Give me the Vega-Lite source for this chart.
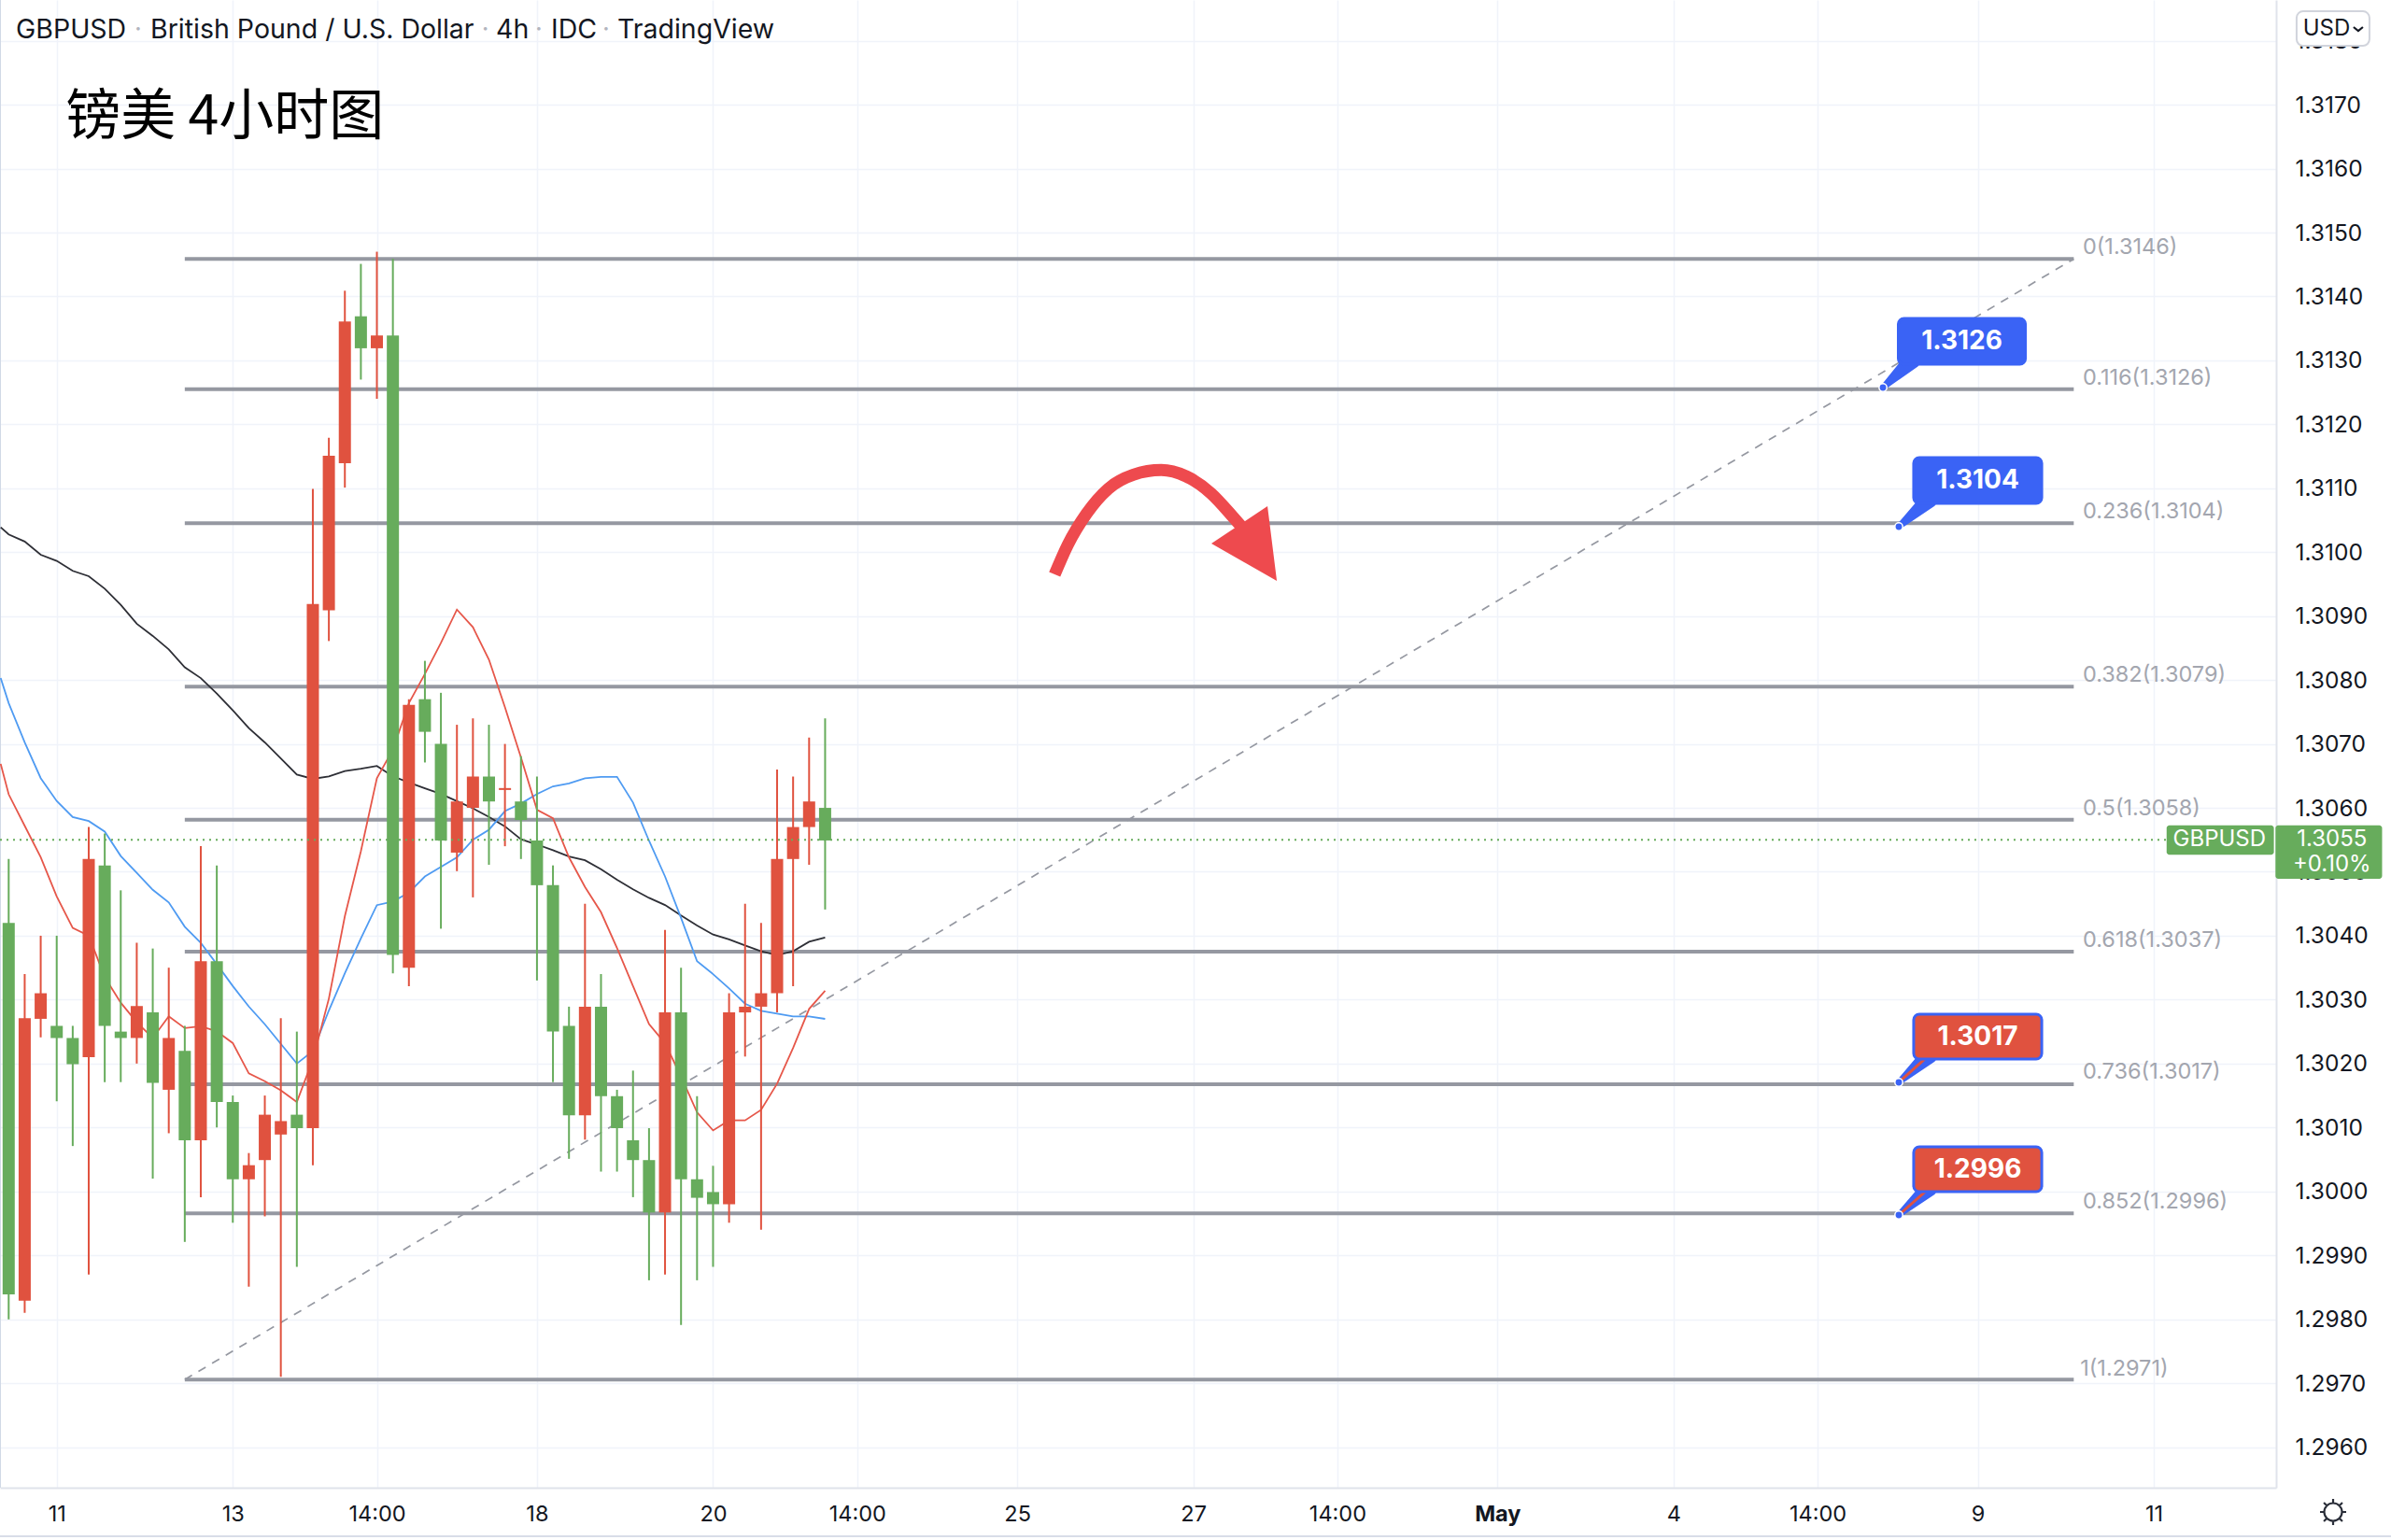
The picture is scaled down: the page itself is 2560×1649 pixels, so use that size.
{
"$schema":"https://vega.github.io/schema/vega-lite/v6.json",
"width":2437,"height":1593,
"autosize":"none",
"padding":{"left":0,"top":0,"right":123,"bottom":56},
"background":"#ffffff",
"config":{"view":{"stroke":null},"text":{"font":"Inter"}},
"datasets":{
"candles":[
{"t":0,"open":1.30420,"high":1.30520,"low":1.29800,"close":1.29839},
{"t":1,"open":1.29829,"high":1.30340,"low":1.29810,"close":1.30271},
{"t":2,"open":1.30270,"high":1.30400,"low":1.30241,"close":1.30310},
{"t":3,"open":1.30259,"high":1.30400,"low":1.30141,"close":1.30240},
{"t":4,"open":1.30240,"high":1.30259,"low":1.30071,"close":1.30199},
{"t":5,"open":1.30210,"high":1.30570,"low":1.29870,"close":1.30520},
{"t":6,"open":1.30510,"high":1.30560,"low":1.30171,"close":1.30259},
{"t":7,"open":1.30250,"high":1.30471,"low":1.30171,"close":1.30240},
{"t":8,"open":1.30240,"high":1.30389,"low":1.30200,"close":1.30290},
{"t":9,"open":1.30280,"high":1.30380,"low":1.30020,"close":1.30170},
{"t":10,"open":1.30159,"high":1.30350,"low":1.30091,"close":1.30240},
{"t":11,"open":1.30220,"high":1.30259,"low":1.29921,"close":1.30080},
{"t":12,"open":1.30080,"high":1.30540,"low":1.29991,"close":1.30360},
{"t":13,"open":1.30360,"high":1.30510,"low":1.30100,"close":1.30140},
{"t":14,"open":1.30140,"high":1.30150,"low":1.29951,"close":1.30019},
{"t":15,"open":1.30019,"high":1.30060,"low":1.29851,"close":1.30041},
{"t":16,"open":1.30049,"high":1.30150,"low":1.29961,"close":1.30120},
{"t":17,"open":1.30089,"high":1.30271,"low":1.29710,"close":1.30110},
{"t":18,"open":1.30120,"high":1.30250,"low":1.29882,"close":1.30099},
{"t":19,"open":1.30099,"high":1.31099,"low":1.30041,"close":1.30919},
{"t":20,"open":1.30909,"high":1.31179,"low":1.30861,"close":1.31151},
{"t":21,"open":1.31139,"high":1.31409,"low":1.31101,"close":1.31361},
{"t":22,"open":1.31369,"high":1.31451,"low":1.31270,"close":1.31319},
{"t":23,"open":1.31319,"high":1.31470,"low":1.31240,"close":1.31339},
{"t":24,"open":1.31339,"high":1.31459,"low":1.30341,"close":1.30370},
{"t":25,"open":1.30350,"high":1.30770,"low":1.30321,"close":1.30761},
{"t":26,"open":1.30770,"high":1.30830,"low":1.30671,"close":1.30719},
{"t":27,"open":1.30700,"high":1.30780,"low":1.30411,"close":1.30549},
{"t":28,"open":1.30530,"high":1.30730,"low":1.30501,"close":1.30610},
{"t":29,"open":1.30600,"high":1.30740,"low":1.30460,"close":1.30649},
{"t":30,"open":1.30649,"high":1.30730,"low":1.30511,"close":1.30610},
{"t":31,"open":1.30628,"high":1.30700,"low":1.30540,"close":1.30631},
{"t":32,"open":1.30610,"high":1.30681,"low":1.30520,"close":1.30581},
{"t":33,"open":1.30549,"high":1.30649,"low":1.30330,"close":1.30479},
{"t":34,"open":1.30479,"high":1.30510,"low":1.30171,"close":1.30250},
{"t":35,"open":1.30259,"high":1.30289,"low":1.30051,"close":1.30119},
{"t":36,"open":1.30119,"high":1.30450,"low":1.30081,"close":1.30289},
{"t":37,"open":1.30289,"high":1.30340,"low":1.30031,"close":1.30149},
{"t":38,"open":1.30149,"high":1.30159,"low":1.30031,"close":1.30099},
{"t":39,"open":1.30080,"high":1.30189,"low":1.29991,"close":1.30049},
{"t":40,"open":1.30049,"high":1.30099,"low":1.29861,"close":1.29967},
{"t":41,"open":1.29967,"high":1.30409,"low":1.29870,"close":1.30280},
{"t":42,"open":1.30280,"high":1.30350,"low":1.29791,"close":1.30019},
{"t":43,"open":1.30019,"high":1.30149,"low":1.29861,"close":1.29990},
{"t":44,"open":1.29999,"high":1.30040,"low":1.29882,"close":1.29980},
{"t":45,"open":1.29980,"high":1.30310,"low":1.29951,"close":1.30280},
{"t":46,"open":1.30280,"high":1.30450,"low":1.30211,"close":1.30289},
{"t":47,"open":1.30289,"high":1.30420,"low":1.29940,"close":1.30310},
{"t":48,"open":1.30310,"high":1.30660,"low":1.30280,"close":1.30520},
{"t":49,"open":1.30520,"high":1.30649,"low":1.30321,"close":1.30570},
{"t":50,"open":1.30570,"high":1.30710,"low":1.30511,"close":1.30610},
{"t":51,"open":1.30600,"high":1.30740,"low":1.30441,"close":1.30549}
],
"ma":[
{"t":-0.5,"black":1.31039,"blue":1.30803,"red":1.306689},
{"t":0,"black":1.310278,"blue":1.307639,"red":1.306212},
{"t":1,"black":1.310166,"blue":1.307024,"red":1.30572},
{"t":2,"black":1.309959,"blue":1.306465,"red":1.305228},
{"t":3,"black":1.309864,"blue":1.306108,"red":1.304614},
{"t":4,"black":1.309708,"blue":1.305856,"red":1.304122},
{"t":5,"black":1.309624,"blue":1.305794,"red":1.303999},
{"t":6,"black":1.309428,"blue":1.305628,"red":1.303353},
{"t":7,"black":1.309177,"blue":1.305247,"red":1.302953},
{"t":8,"black":1.30888,"blue":1.304982,"red":1.302646},
{"t":9,"black":1.30869,"blue":1.304718,"red":1.3024},
{"t":10,"black":1.308478,"blue":1.304521,"red":1.302738},
{"t":11,"black":1.308198,"blue":1.30414,"red":1.302554},
{"t":12,"black":1.30803,"blue":1.303888,"red":1.302584},
{"t":13,"black":1.30779,"blue":1.303556,"red":1.302504},
{"t":14,"black":1.307527,"blue":1.303212,"red":1.30232},
{"t":15,"black":1.307248,"blue":1.302892,"red":1.301846},
{"t":16,"black":1.307024,"blue":1.302615,"red":1.301724},
{"t":17,"black":1.306773,"blue":1.302308,"red":1.301582},
{"t":18,"black":1.306521,"blue":1.302,"red":1.301398},
{"t":19,"black":1.306454,"blue":1.302197,"red":1.302062},
{"t":20,"black":1.306493,"blue":1.30283,"red":1.303015},
{"t":21,"black":1.306577,"blue":1.303414,"red":1.304306},
{"t":22,"black":1.306611,"blue":1.303956,"red":1.305321},
{"t":23,"black":1.306655,"blue":1.304478,"red":1.306464},
{"t":24,"black":1.306493,"blue":1.304534,"red":1.306912},
{"t":25,"black":1.306396,"blue":1.304675,"red":1.307639},
{"t":26,"black":1.306306,"blue":1.304927,"red":1.308095},
{"t":27,"black":1.306217,"blue":1.305076,"red":1.30858},
{"t":28,"black":1.306105,"blue":1.305226,"red":1.309102},
{"t":29,"black":1.305993,"blue":1.305501,"red":1.308826},
{"t":30,"black":1.305859,"blue":1.305658,"red":1.308319},
{"t":31,"black":1.30571,"blue":1.305949,"red":1.307574},
{"t":32,"black":1.305509,"blue":1.306068,"red":1.306791},
{"t":33,"black":1.305427,"blue":1.306217,"red":1.305971},
{"t":34,"black":1.305337,"blue":1.306336,"red":1.305837},
{"t":35,"black":1.30524,"blue":1.306381,"red":1.305226},
{"t":36,"black":1.305181,"blue":1.306463,"red":1.304763},
{"t":37,"black":1.305039,"blue":1.306485,"red":1.304368},
{"t":38,"black":1.304875,"blue":1.306485,"red":1.303809},
{"t":39,"black":1.304726,"blue":1.306083,"red":1.303213},
{"t":40,"black":1.304592,"blue":1.305486,"red":1.302617},
{"t":41,"black":1.30448,"blue":1.304927,"red":1.302318},
{"t":42,"black":1.304316,"blue":1.304279,"red":1.301797},
{"t":43,"black":1.30416,"blue":1.303601,"red":1.301238},
{"t":44,"black":1.304018,"blue":1.303399,"red":1.300954},
{"t":45,"black":1.303943,"blue":1.303176,"red":1.301111},
{"t":46,"black":1.303847,"blue":1.302937,"red":1.301111},
{"t":47,"black":1.303757,"blue":1.302825,"red":1.301275},
{"t":48,"black":1.303698,"blue":1.302781,"red":1.301685},
{"t":49,"black":1.303757,"blue":1.302736,"red":1.302244},
{"t":50,"black":1.303906,"blue":1.302736,"red":1.302855},
{"t":51,"black":1.303973,"blue":1.302699,"red":1.303138}
],
"fib":[
{"level":"0","price":1.314587,"t0":11,"t1":129},
{"level":"0.116","price":1.31255,"t0":11,"t1":129},
{"level":"0.236","price":1.310452,"t0":11,"t1":129},
{"level":"0.382","price":1.307896,"t0":11,"t1":129},
{"level":"0.5","price":1.305815,"t0":11,"t1":129},
{"level":"0.618","price":1.303751,"t0":11,"t1":129},
{"level":"0.736","price":1.301676,"t0":11,"t1":129},
{"level":"0.852","price":1.299656,"t0":11,"t1":129},
{"level":"1","price":1.297057,"t0":11,"t1":129}
],
"fibLabels":[
{"label":"0(1.3146)","t":129.56,"price":1.314762},
{"label":"0.116(1.3126)","t":129.56,"price":1.312728},
{"label":"0.236(1.3104)","t":129.56,"price":1.310633},
{"label":"0.382(1.3079)","t":129.56,"price":1.308076},
{"label":"0.5(1.3058)","t":129.56,"price":1.305983},
{"label":"0.618(1.3037)","t":129.56,"price":1.303923},
{"label":"0.736(1.3017)","t":129.56,"price":1.301859},
{"label":"0.852(1.2996)","t":129.56,"price":1.299832},
{"label":"1(1.2971)","t":129.4,"price":1.297225}
],
"trend":[{"t":11,"price":1.297057},{"t":129,"price":1.314587}],
"arrow":[
{"t":65.34,"price":1.309653},{"t":66.16,"price":1.310116},{"t":67.33,"price":1.310603},{"t":68.69,"price":1.310993},{"t":70.25,"price":1.311212},{"t":72.0,"price":1.311285},{"t":73.55,"price":1.311187},{"t":75.11,"price":1.31092},{"t":76.47,"price":1.310554},{"t":77.15,"price":1.310359}
],
"boxes":[
{"name":"a","kind":"blue","t0":118.04,"t1":125.98,"p0":1.31294,"p1":1.313656},
{"name":"b","kind":"blue","t0":119.0,"t1":127.0,"p0":1.310763,"p1":1.311479},
{"name":"c","kind":"red","t0":119.0,"t1":127.0,"p0":1.302071,"p1":1.302772},
{"name":"d","kind":"red","t0":119.0,"t1":127.0,"p0":1.299996,"p1":1.300698}
],
"pointers":[
{"name":"a","kind":"blue","end":"tip","t":117.08,"price":1.312575},
{"name":"a","kind":"blue","end":"box","t":118.9,"price":1.31300},
{"name":"b","kind":"blue","end":"tip","t":118.07,"price":1.310398},
{"name":"b","kind":"blue","end":"box","t":119.96,"price":1.31082},
{"name":"c","kind":"red","end":"tip","t":118.07,"price":1.301706},
{"name":"c","kind":"red","end":"box","t":119.96,"price":1.30213},
{"name":"d","kind":"red","end":"tip","t":118.07,"price":1.299631},
{"name":"d","kind":"red","end":"box","t":119.96,"price":1.30005}
],
"callouts":[
{"label":"1.3126","t":122.01,"price":1.313285},
{"label":"1.3104","t":123.0,"price":1.311108},
{"label":"1.3017","t":123.0,"price":1.302409},
{"label":"1.2996","t":123.0,"price":1.300334}
],
"header":[
{"label":"GBPUSD","t":0.45,"price":1.31817},
{"label":"British Pound / U.S. Dollar","t":8.85,"price":1.31817},
{"label":"4h","t":30.44,"price":1.31817},
{"label":"IDC","t":33.88,"price":1.31817},
{"label":"TradingView","t":38.02,"price":1.31817}
],
"dots":[{"t":8.09},{"t":29.77},{"t":33.12},{"t":37.32}]
},
"layer":[
{"data":{"values":[{"a":0}]},"mark":{"type":"point","opacity":0},
 "encoding":{
  "x":{"datum":0,"type":"quantitative","scale":{"domain":[-0.5426,141.64],"nice":false,"zero":false,"padding":0},
   "axis":{"title":null,"values":[3,14,23,33,44,53,63,74,83,93,104,113,123,134],
    "labelExpr":"['11','13','14:00','18','20','14:00','25','27','14:00','May','4','14:00','9','11'][indexof([3,14,23,33,44,53,63,74,83,93,104,113,123,134],datum.value)]",
    "labelFontWeight":{"condition":{"test":"datum.value==93","value":"bold"},"value":"normal"},
    "labelFont":"Inter","labelFontSize":23.5,"labelColor":"#131722","labelPadding":16,"labelOverlap":false,"labelFlush":false,"tickSize":0,
    "grid":true,"gridColor":"#f0f3fa","gridWidth":1.5,"domainColor":"#e0e3eb","domainWidth":2}},
  "y":{"datum":1.31,"type":"quantitative","scale":{"domain":[1.295365,1.318638],"nice":false,"zero":false},
   "axis":{"orient":"right","title":null,"values":[1.296,1.297,1.298,1.299,1.3,1.301,1.302,1.303,1.304,1.305,1.306,1.307,1.308,1.309,1.31,1.311,1.312,1.313,1.314,1.315,1.316,1.317,1.318],
    "format":".4f","labelFont":"Inter","labelFontSize":24.5,"labelColor":"#131722","labelPadding":20,"labelOffset":1,"labelOverlap":false,"labelFlush":false,"tickSize":0,
    "grid":true,"gridColor":"#f0f3fa","gridWidth":1.5,"domainColor":"#e0e3eb","domainWidth":2}}
 }},
{"data":{"values":[{"t":-0.5426,"a":1.295365,"b":1.318638}]},"mark":{"type":"rule","color":"#d1d9e6","strokeWidth":2},
 "encoding":{"x":{"field":"t","type":"quantitative"},"y":{"field":"a","type":"quantitative"},"y2":{"field":"b"}}},
{"data":{"values":[{"t0":-0.5426,"t1":149.4,"p":1.294606}]},"mark":{"type":"rule","color":"#d9dde8","strokeWidth":2},
 "encoding":{"x":{"field":"t0","type":"quantitative"},"x2":{"field":"t1"},"y":{"field":"p","type":"quantitative"}}},
{"data":{"name":"fib"},"mark":{"type":"rule","color":"#9598a1","strokeWidth":4},
 "encoding":{"x":{"field":"t0","type":"quantitative"},"x2":{"field":"t1"},"y":{"field":"price","type":"quantitative"}}},
{"data":{"name":"trend"},"mark":{"type":"line","color":"#9598a1","strokeWidth":1.7,"strokeDash":[9,8]},
 "encoding":{"x":{"field":"t","type":"quantitative"},"y":{"field":"price","type":"quantitative"}}},
{"data":{"name":"ma"},"mark":{"type":"line","color":"#2e2f36","strokeWidth":1.8},
 "encoding":{"x":{"field":"t","type":"quantitative"},"y":{"field":"black","type":"quantitative"}}},
{"data":{"name":"ma"},"mark":{"type":"line","color":"#4f9bf2","strokeWidth":1.8},
 "encoding":{"x":{"field":"t","type":"quantitative"},"y":{"field":"blue","type":"quantitative"}}},
{"data":{"name":"ma"},"mark":{"type":"line","color":"#e6574a","strokeWidth":1.8},
 "encoding":{"x":{"field":"t","type":"quantitative"},"y":{"field":"red","type":"quantitative"}}},
{"data":{"name":"candles"},"mark":{"type":"rule","strokeWidth":2},
 "encoding":{"x":{"field":"t","type":"quantitative"},"y":{"field":"low","type":"quantitative"},"y2":{"field":"high"},
  "color":{"condition":{"test":"datum.close>=datum.open","value":"#e0523f"},"value":"#67ac5c"}}},
{"data":{"name":"candles"},"mark":{"type":"bar","size":13},
 "encoding":{"x":{"field":"t","type":"quantitative"},"y":{"field":"open","type":"quantitative"},"y2":{"field":"close"},
  "color":{"condition":{"test":"datum.close>=datum.open","value":"#e0523f"},"value":"#67ac5c"}}},
{"data":{"values":[{"t0":-0.5426,"t1":134.8,"p":1.3055}]},"mark":{"type":"rule","color":"#67ac5c","strokeWidth":2,"strokeDash":[2,5]},
 "encoding":{"x":{"field":"t0","type":"quantitative"},"x2":{"field":"t1"},"y":{"field":"p","type":"quantitative"}}},
{"data":{"name":"fibLabels"},"mark":{"type":"text","align":"left","baseline":"middle","fontSize":23.5,"color":"#a3a6af"},
 "encoding":{"x":{"field":"t","type":"quantitative"},"y":{"field":"price","type":"quantitative"},"text":{"field":"label"}}},
{"data":{"name":"arrow"},"mark":{"type":"line","color":"#ee4a4e","strokeWidth":13,"interpolate":"monotone","strokeCap":"butt"},
 "encoding":{"x":{"field":"t","type":"quantitative"},"y":{"field":"price","type":"quantitative"}}},
{"data":{"values":[{"t":77.64,"price":1.310135}]},"mark":{"type":"point","filled":true,"opacity":1,"color":"#ee4a4e","size":8100,"shape":"M0.378,-0.889L0.6,0.889L-0.956,0Z"},
 "encoding":{"x":{"field":"t","type":"quantitative"},"y":{"field":"price","type":"quantitative"}}},
{"data":{"name":"pointers"},"mark":{"type":"trail","color":"#3a63f5"},
 "encoding":{"x":{"field":"t","type":"quantitative"},"y":{"field":"price","type":"quantitative"},"detail":{"field":"name"},"order":{"field":"t"},
  "size":{"field":"end","type":"ordinal","scale":{"domain":["tip","box"],"range":[6,18]},"legend":null}}},
{"data":{"name":"pointers"},"transform":[{"filter":"datum.kind=='red'"}],"mark":{"type":"line","color":"#e0523f","strokeWidth":3},
 "encoding":{"x":{"field":"t","type":"quantitative"},"y":{"field":"price","type":"quantitative"},"detail":{"field":"name"},"order":{"field":"t"}}},
{"data":{"name":"pointers"},"transform":[{"filter":"datum.end=='tip'"}],"mark":{"type":"point","filled":true,"opacity":1,"color":"#3a63f5","stroke":"#ffffff","strokeWidth":1.5,"size":70},
 "encoding":{"x":{"field":"t","type":"quantitative"},"y":{"field":"price","type":"quantitative"}}},
{"data":{"name":"boxes"},"mark":{"type":"rect","cornerRadius":6,"stroke":"#3a63f5","strokeWidth":3},
 "encoding":{"x":{"field":"t0","type":"quantitative"},"x2":{"field":"t1"},"y":{"field":"p0","type":"quantitative"},"y2":{"field":"p1"},
  "color":{"condition":{"test":"datum.kind=='red'","value":"#e0523f"},"value":"#3a63f5"}}},
{"data":{"name":"callouts"},"mark":{"type":"text","align":"center","baseline":"middle","fontSize":28,"fontWeight":"bold","color":"#ffffff"},
 "encoding":{"x":{"field":"t","type":"quantitative"},"y":{"field":"price","type":"quantitative"},"text":{"field":"label"}}},
{"data":{"values":[{"t0":134.8,"t1":141.5,"p0":1.305266,"p1":1.305728},{"t0":141.6,"t1":148.26,"p0":1.30489,"p1":1.305728}]},"mark":{"type":"rect","cornerRadius":3,"color":"#67ac5c"},
 "encoding":{"x":{"field":"t0","type":"quantitative"},"x2":{"field":"t1"},"y":{"field":"p0","type":"quantitative"},"y2":{"field":"p1"}}},
{"data":{"values":[{"label":"GBPUSD","t":138.1,"price":1.305504},{"label":"1.3055","t":145.13,"price":1.305504},{"label":"+0.10%","t":145.13,"price":1.305114}]},"mark":{"type":"text","align":"center","baseline":"middle","fontSize":24,"color":"#ffffff"},
 "encoding":{"x":{"field":"t","type":"quantitative"},"y":{"field":"price","type":"quantitative"},"text":{"field":"label"}}},
{"data":{"name":"header"},"mark":{"type":"text","align":"left","baseline":"middle","fontSize":28.5,"color":"#131722"},
 "encoding":{"x":{"field":"t","type":"quantitative"},"y":{"field":"price","type":"quantitative"},"text":{"field":"label"}}},
{"data":{"name":"dots"},"transform":[{"calculate":"1.31817","as":"price"}],"mark":{"type":"text","align":"center","baseline":"middle","fontSize":27,"color":"#b2b5be","text":"·"},
 "encoding":{"x":{"field":"t","type":"quantitative"},"y":{"field":"price","type":"quantitative"}}},
{"data":{"values":[{"label":"镑美 4小时图","t":3.56,"price":1.31679}]},"mark":{"type":"text","align":"left","baseline":"middle","fontSize":59,"font":"Noto Sans CJK SC","color":"#000000"},
 "encoding":{"x":{"field":"t","type":"quantitative"},"y":{"field":"price","type":"quantitative"},"text":{"field":"label"}}},
{"data":{"values":[{"t0":142.92,"t1":147.47,"p0":1.317922,"p1":1.318462}]},"mark":{"type":"rect","cornerRadius":7,"fill":"#ffffff","stroke":"#d1d4dc","strokeWidth":2},
 "encoding":{"x":{"field":"t0","type":"quantitative"},"x2":{"field":"t1"},"y":{"field":"p0","type":"quantitative"},"y2":{"field":"p1"}}},
{"data":{"values":[{"label":"USD","t":144.79,"price":1.318185}]},"mark":{"type":"text","align":"center","baseline":"middle","fontSize":24,"color":"#131722"},
 "encoding":{"x":{"field":"t","type":"quantitative"},"y":{"field":"price","type":"quantitative"},"text":{"field":"label"}}},
{"data":{"values":[{"t":146.77,"price":1.318185}]},"mark":{"type":"point","filled":false,"opacity":1,"stroke":"#131722","strokeWidth":2.2,"size":100,"shape":"M-1,-0.4L0,0.4L1,-0.4"},
 "encoding":{"x":{"field":"t","type":"quantitative"},"y":{"field":"price","type":"quantitative"}}},
{"data":{"values":[{"t":145.2,"price":1.294985}]},"mark":{"type":"point","filled":false,"opacity":1,"stroke":"#2a2e39","strokeWidth":2.2,"size":784,"shape":"M-0.68,0A0.68,0.68 0 1 1 0.68,0A0.68,0.68 0 1 1 -0.68,0M0,-1L0,-0.68M0,1L0,0.68M-1,0L-0.68,0M1,0L0.68,0M-0.71,-0.71L-0.48,-0.48M0.71,-0.71L0.48,-0.48M-0.71,0.71L-0.48,0.48M0.71,0.71L0.48,0.48"},
 "encoding":{"x":{"field":"t","type":"quantitative"},"y":{"field":"price","type":"quantitative"}}}
]
}
